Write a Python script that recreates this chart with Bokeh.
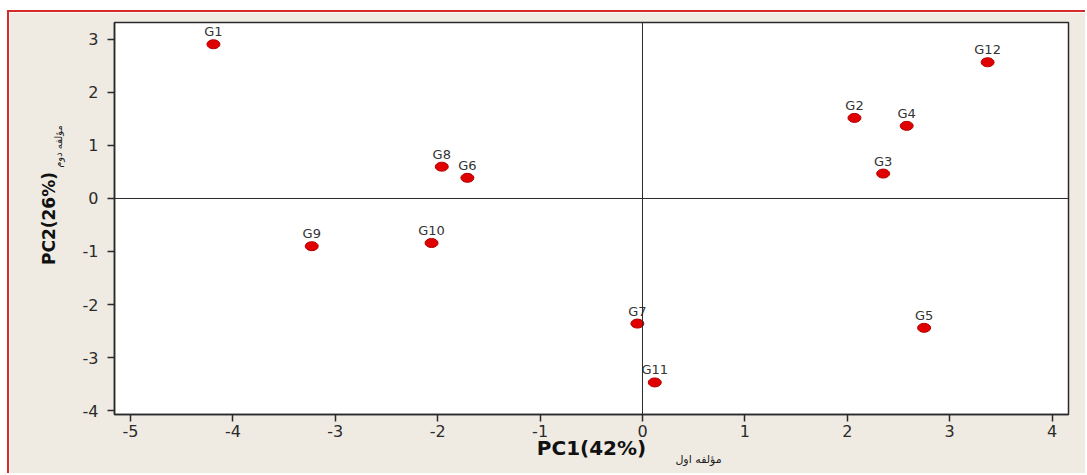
from bokeh.plotting import figure
from bokeh.models import ColumnDataSource, Span, Label, Range1d, FixedTicker
from bokeh.core.properties import value
from bokeh.embed import file_html
from bokeh.resources import INLINE

names = ["G1", "G2", "G3", "G4", "G5", "G6", "G7", "G8", "G9", "G10", "G11", "G12"]
pc1 = [-4.19, 2.07, 2.35, 2.58, 2.75, -1.71, -0.05, -1.96, -3.23, -2.06, 0.12, 3.37]
pc2 = [2.91, 1.52, 0.47, 1.37, -2.44, 0.39, -2.36, 0.60, -0.90, -0.84, -3.47, 2.57]
x_ticks = [-5, -4, -3, -2, -1, 0, 1, 2, 3, 4]
y_ticks = [-4, -3, -2, -1, 0, 1, 2, 3]
x_title = "PC1(42%)"
y_title = "PC2(26%)"
x_title_fa = "مؤلفه اول"
y_title_fa = "مؤلفه دوم"

FONT = "DejaVu Sans"
src = ColumnDataSource(dict(x=pc1, y=pc2, name=names))

p = figure(width=1078, height=463, output_backend="svg", toolbar_location=None,
           x_range=Range1d(-5.156, 4.16), y_range=Range1d(-4.075, 3.32),
           min_border_left=105, min_border_right=19, min_border_top=10, min_border_bottom=59)
p.styles = {"margin-left": "7px", "margin-top": "10px",
            "border-top": "2px solid #d42a2a", "border-left": "2px solid #d42a2a"}
p.background_fill_color = "white"
p.border_fill_color = "#efebe3"
p.outline_line_color = "#2a2a2a"
p.outline_line_width = 1.5
p.grid.visible = False

for ax, ticks in ((p.xaxis, x_ticks), (p.yaxis, y_ticks)):
    ax.ticker = FixedTicker(ticks=ticks)
    ax.major_label_overrides = {t: str(t) for t in ticks}
    ax.axis_line_color = "#2a2a2a"
    ax.axis_line_width = 1.5
    ax.major_tick_line_color = "#2a2a2a"
    ax.major_tick_line_width = 1.5
    ax.major_tick_out = 7
    ax.major_tick_in = 0
    ax.minor_tick_line_color = None
    ax.major_label_text_font = FONT
    ax.major_label_text_font_size = "16px"
    ax.major_label_text_color = "#2a2a2a"
    ax.axis_label_text_font = FONT
    ax.axis_label_text_font_style = "bold"
    ax.axis_label_text_color = "#111111"

p.xaxis.axis_label = x_title
p.yaxis.axis_label = y_title
p.xaxis.axis_label_text_font_size = "20px"
p.yaxis.axis_label_text_font_size = "17px"
p.xaxis.major_label_standoff = 3
p.yaxis.major_label_standoff = 9
p.xaxis.axis_label_standoff = -4
p.yaxis.axis_label_standoff = 21

p.add_layout(Span(location=0, dimension="height", line_color="#2a2a2a", line_width=1))
p.add_layout(Span(location=0, dimension="width", line_color="#2a2a2a", line_width=1))

p.ellipse(x="x", y="y", width=13, height=9, width_units="screen", height_units="screen",
          source=src, fill_color="#e00000", line_color="#b00000", line_width=1)
p.text(x="x", y="y", text="name", source=src, text_font=value(FONT), text_font_size="13px",
       text_color="#333333", text_align="center", text_baseline="bottom", y_offset=-5)

p.add_layout(Label(x=584, y=16, x_units="screen", y_units="screen", text=x_title_fa,
                   text_align="center", text_baseline="middle",
                   text_font=FONT, text_font_size="11px", text_color="#222222"), "below")
p.add_layout(Label(x=34, y=268, x_units="screen", y_units="screen", text=y_title_fa,
                   angle=1.5708, text_align="center", text_baseline="middle",
                   text_font=FONT, text_font_size="10px", text_color="#222222"), "left")

open("out.html", "w").write(file_html(p, INLINE))
